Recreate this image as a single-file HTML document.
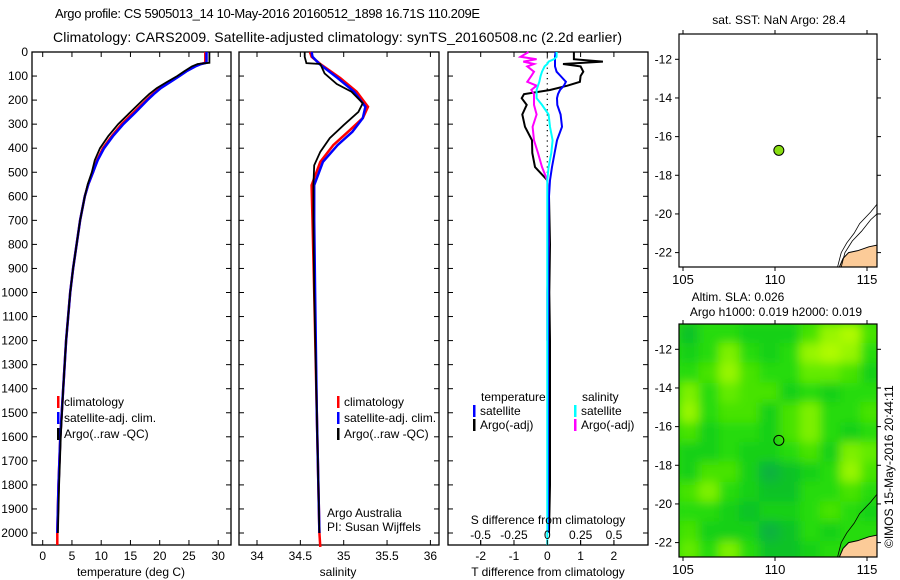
<!DOCTYPE html>
<html><head><meta charset="utf-8"><style>
html,body{margin:0;padding:0;background:#fff;}
svg{display:block;font-family:"Liberation Sans",sans-serif;}
text{font-size:12px;fill:#000;}
</style></head><body>
<svg id="fig" width="900" height="580" viewBox="0 0 900 580">
<text x="55" y="18" style="font-size:13px" textLength="425">Argo profile: CS 5905013_14 10-May-2016 20160512_1898 16.71S 110.209E</text>
<text x="53" y="42" style="font-size:14px" textLength="569">Climatology: CARS2009. Satellite-adjusted climatology: synTS_20160508.nc (2.2d earlier)</text>
<g id="p1"></g>
<g id="p2"></g>
<g id="p3"></g>
<g id="m1"></g>
<g id="m2"></g>
<text transform="translate(893,548) rotate(-90)">©IMOS 15-May-2016 20:44:11</text>
</svg>
<script>
// ---------- data ----------
const depthTicks=[0,100,200,300,400,500,600,700,800,900,1000,1100,1200,1300,1400,1500,1600,1700,1800,1900,2000];
const tempTicks=[0,5,10,15,20,25,30];
const salTicks=[34,34.5,35,35.5,36];
const salTickLabels=["34","34.5","35","35.5","36"];
const tdTicks=[-2,-1,0,1,2];
const sdTicks=[-0.5,-0.25,0,0.25,0.5];
const sdTickLabels=["-0.5","-0.25","0","0.25","0.5"];

const depthT=[0,10,30,45,50,60,80,100,125,150,175,200,250,300,350,400,450,500,550,600,700,800,900,1000,1200,1400,1600,1800,2000,2050];
const argoT=[28.5,28.5,28.5,28.5,26.5,25.5,24.2,23,21.2,19.5,18.2,17.1,15,12.9,11.2,9.8,8.9,8.4,7.7,7.2,6.4,5.8,5.2,4.7,4.0,3.5,3.1,2.8,2.6,null];
const climT=[27.8,27.8,27.8,27.8,27.0,26.0,24.5,23.3,21.6,20.0,18.8,17.7,15.6,13.5,11.8,10.3,9.3,8.6,7.8,7.2,6.4,5.8,5.2,4.7,4.0,3.5,3.0,2.7,2.5,2.5];
const satT=[28.0,28.0,28.0,28.0,27.1,26.1,24.6,23.4,21.8,20.2,19.0,17.9,15.9,13.8,12.0,10.5,9.4,8.6,7.8,7.2,6.4,5.8,5.2,4.7,4.0,3.5,3.0,2.7,2.5,null];

const depthS=[0,20,46,50,89,133,165,213,249,304,358,415,471,554,700,1000,1500,2000,2050];
const argoS=[34.55,34.55,34.57,34.73,34.78,34.92,35.09,35.22,35.17,35.0,34.84,34.73,34.66,34.65,34.65,34.66,34.69,34.72,null];
const depthC=[0,20,50,108,165,228,275,332,387,457,554,700,1000,1500,2000,2058];
const climS=[34.61,34.63,34.73,34.96,35.15,35.28,35.22,35.05,34.88,34.73,34.63,34.64,34.66,34.69,34.72,34.73];
const satS=[34.63,34.64,34.72,34.93,35.12,35.25,35.22,35.1,34.93,34.76,34.66,34.66,34.67,34.69,34.72,null];

const depthD=[0,20,30,40,50,60,82,100,124,140,158,175,192,220,260,311,367,420,478,533,600,800,1000,1200,1500,1800,2000,2050];
const argoTd=[0.8,0.8,0.8,1.67,0.47,1.0,1.08,1.0,0.98,0.6,0.08,-0.7,-0.77,-0.62,-0.75,-0.67,-0.46,-0.45,-0.37,0,0.05,0.08,0.06,0.08,0.08,0.08,0.05,null];
const satTd=[0.25,0.23,0.23,0.23,0.23,0.23,0.28,0.4,0.56,0.5,0.38,0.32,0.29,0.3,0.4,0.44,0.29,0.22,0.14,0.08,0.05,0.03,0.03,0.02,0.02,0.02,0.02,null];
const satSd=[0.07,0.07,0.05,0.01,0,-0.02,-0.04,-0.05,-0.06,-0.07,-0.08,-0.08,-0.08,-0.04,0.01,0.02,0.04,0.03,0.01,0,0,0,0,0,0,0,0,0];
const argoSd=[-0.14,-0.2,-0.08,-0.18,-0.1,-0.15,-0.1,-0.12,-0.15,-0.08,-0.12,-0.1,-0.1,-0.1,-0.08,-0.11,-0.1,-0.07,-0.04,0,0.01,0.01,0,0,null,null,null,null];

const lonTicks=[105,110,115];
const latTicks=[-12,-14,-16,-18,-20,-22];
const floatLon=110.209, floatLat=-16.71;
const slaGrid=[
[0.2,0.4,0.4,0.3,0.3,0.3,0.5,0.8,0.9,0.5],
[0.3,0.4,0.7,0.4,0.3,0.4,0.8,0.9,0.8,0.4],
[0.4,0.5,0.8,0.5,0.4,0.4,0.6,0.6,0.5,0.3],
[0.7,0.4,0.6,0.5,0.5,0.3,0.4,0.3,0.4,0.4],
[0.8,0.4,0.5,0.5,0.3,0.5,0.7,0.4,0.4,0.5],
[0.5,0.3,0.4,0.4,0.3,0.5,0.7,0.4,0.3,0.4],
[0.3,0.3,0.4,0.3,0.3,0.4,0.5,0.3,0.7,0.6],
[0.3,0.5,0.5,0.3,0.1,0.2,0.3,0.4,0.8,0.5],
[0.5,0.7,0.4,0.3,0.2,0.2,0.4,0.4,0.5,0.4],
[0.4,0.4,0.3,0.2,0.3,0.3,0.4,0.5,0.4,0.3],
[0.5,0.3,0.3,0.3,0.1,0.2,0.4,0.3,0.4,0.4],
[0.6,0.4,0.7,0.4,0.2,0.2,0.3,0.4,0.4,0.3]];

// ---------- helpers ----------
const NS="http://www.w3.org/2000/svg";
function mk(tag,attrs,parent){const e=document.createElementNS(NS,tag);for(const k in attrs)e.setAttribute(k,attrs[k]);parent.appendChild(e);return e;}
function txt(s,x,y,anchor,parent){const t=mk('text',{x:x,y:y,'text-anchor':anchor||'start'},parent);t.textContent=s;return t;}
const TOP=52,BOT=545;
const yD=d=>TOP+d*0.2405;
function linePath(xs,ys,xf){let d='',pen=false;for(let i=0;i<xs.length;i++){if(xs[i]==null){pen=false;continue;}const X=xf(xs[i]).toFixed(1),Y=yD(ys[i]).toFixed(1);d+=(pen?'L':'M')+X+' '+Y;pen=true;}return d;}
function frame(g,x0,x1,yLabels){
  const r=mk('rect',{x:x0,y:TOP,width:x1-x0,height:BOT-TOP,fill:'none',stroke:'#000','stroke-width':1.3},g);
  
  
  depthTicks.forEach(d=>{const y=yD(d);
    mk('line',{x1:x0,y1:y,x2:x0+5,y2:y,stroke:'#000'},g);
    mk('line',{x1:x1-5,y1:y,x2:x1,y2:y,stroke:'#000'},g);
    if(yLabels){const t=txt(String(d),x0-4,y+4,'end',g);
      
      }
  });
}
function xticks(g,vals,labels,xf,labelY,top){
  vals.forEach((v,i)=>{const x=xf(v);
    mk('line',{x1:x,y1:BOT,x2:x,y2:BOT-5,stroke:'#000'},g);
    if(top) mk('line',{x1:x,y1:TOP,x2:x,y2:TOP+5,stroke:'#000'},g);
    if(labelY){const t=txt(labels[i],x,labelY,'middle',g);
      
      }
  });
}
function series(g,xs,ds,xf,color,w,name){
  const p=mk('path',{d:linePath(xs,ds,xf),fill:'none',stroke:color,'stroke-width':w,'stroke-linejoin':'miter'},g);
  
  
}
function legend(g,x,y,color,label,name){
  mk('rect',{x:x,y:y-10,width:2.5,height:12,fill:color},g);
  const t=txt(label,x+7,y,'start',g);
  
  
}

// ---------- panel 1: temperature ----------
const g1=document.getElementById('p1');
const xT=v=>42.7+v*5.85;
frame(g1,32,231,true);
xticks(g1,tempTicks,tempTicks.map(String),xT,560,true);
series(g1,climT,depthT,xT,'#f00',2.5,'climatology-temperature-line');
series(g1,satT,depthT,xT,'#00f',2.5,'satellite-temperature-line');
series(g1,argoT,depthT,xT,'#000',1.8,'argo-temperature-line');
legend(g1,57,406,'#f00','climatology','legend-climatology');
legend(g1,57,422,'#00f','satellite-adj. clim.','legend-satellite');
legend(g1,57,438,'#000','Argo(..raw -QC)','legend-argo');
{const t=txt('temperature (deg C)',131,576,'middle',g1);}

// ---------- panel 2: salinity ----------
const g2=document.getElementById('p2');
const xS=v=>257+(v-34)*86.7;
frame(g2,239,439,false);
xticks(g2,salTicks,salTickLabels,xS,560,true);
series(g2,climS,depthC,xS,'#f00',2.5,'climatology-salinity-line');
series(g2,satS,depthC,xS,'#00f',2.5,'satellite-salinity-line');
series(g2,argoS,depthS,xS,'#000',1.8,'argo-salinity-line');
legend(g2,337,406,'#f00','climatology','legend-climatology');
legend(g2,337,422,'#00f','satellite-adj. clim.','legend-satellite');
legend(g2,337,438,'#000','Argo(..raw -QC)','legend-argo');
txt('Argo Australia',327,517,'start',g2);
txt('PI: Susan Wijffels',327,531,'start',g2);
{const t=txt('salinity',338,576,'middle',g2);}

// ---------- panel 3: differences ----------
const g3=document.getElementById('p3');
const xTd=v=>547.3+v*33.3;
const xSd=v=>547.3+v*133.3;
frame(g3,448,648,false);
xticks(g3,tdTicks,tdTicks.map(String),xTd,560,true);
mk('line',{x1:xTd(0),y1:TOP,x2:xTd(0),y2:BOT,stroke:'#000','stroke-dasharray':'1.2 4','stroke-width':1.2},g3);
series(g3,argoTd,depthD,xTd,'#000',2,'argo-temperature-difference-line');
series(g3,argoSd,depthD,xSd,'#f0f',2,'argo-salinity-difference-line');
series(g3,satTd,depthD,xTd,'#00f',2,'satellite-temperature-difference-line');
series(g3,satSd,depthD,xSd,'#0ff',2,'satellite-salinity-difference-line');
sdTicks.forEach((v,i)=>{const x=xSd(v);mk('line',{x1:x,y1:BOT,x2:x,y2:BOT-5,stroke:'#000'},g3);
  const t=txt(sdTickLabels[i],x,539,'middle',g3);});
txt('S difference from climatology',548,524,'middle',g3);
txt('temperature',481,401,'start',g3);
txt('salinity',582,401,'start',g3);
legend(g3,473,415,'#00f','satellite','legend-temp-satellite');
legend(g3,473,429,'#000','Argo(-adj)','legend-temp-argo');
legend(g3,574,415,'#0ff','satellite','legend-sal-satellite');
legend(g3,574,429,'#f0f','Argo(-adj)','legend-sal-argo');
{const t=txt('T difference from climatology',548,576,'middle',g3);}

// ---------- maps ----------
const mx=lon=>683+(lon-105)*18.4;
const MX0=679,MX1=877;
function cmap(v){
  const stops=[[0,[0,165,80]],[0.35,[25,215,10]],[0.6,[100,235,0]],[1,[200,255,0]]];
  for(let i=1;i<stops.length;i++){if(v<=stops[i][0]){const a=stops[i-1],b=stops[i],t=(v-a[0])/(b[0]-a[0]);
    return 'rgb('+a[1].map((c,k)=>Math.round(c+(b[1][k]-c)*t)).join(',')+')';}}
  return 'rgb(200,255,0)';
}
function map(g,top,bottom,lat12,withGrid,dotFill){
  const my=lat=>lat12+(-12-lat)*19.33;
  const cid='clip'+top;
  const cp=mk('clipPath',{id:cid},g);mk('rect',{x:MX0,y:top,width:MX1-MX0,height:bottom-top},cp);
  const inner=mk('g',{'clip-path':'url(#'+cid+')'},g);
  if(withGrid){
    const defs=mk('defs',{},g);const f=mk('filter',{id:'blur',x:'-10%',y:'-10%',width:'120%',height:'120%'},defs);
    mk('feGaussianBlur',{stdDeviation:5},f);
    mk('rect',{x:MX0,y:top,width:MX1-MX0,height:bottom-top,fill:cmap(0.4)},inner);
    const hg=mk('g',{filter:'url(#blur)'},inner);
    const rows=slaGrid.length,cols=slaGrid[0].length;
    const lonW=(115.8-104.8)/cols, latH=(23.0-10.7)/rows;
    slaGrid.forEach((row,r)=>row.forEach((v,c)=>{
      const x0=mx(104.8+c*lonW),x1=mx(104.8+(c+1)*lonW),y0=my(-10.7-r*latH),y1=my(-10.7-(r+1)*latH);
      const cell=mk('rect',{x:x0-1,y:y0-1,width:x1-x0+2,height:y1-y0+2,fill:cmap(v)},hg);
      
      
    }));
  }
  const land=mk('path',{d:`M${mx(113.5)} ${bottom} L${mx(113.7)} ${my(-22.3)} L${mx(114.0)} ${my(-22.0)} L${mx(114.5)} ${my(-21.9)} L${mx(115.1)} ${my(-21.7)} L${mx(115.6)} ${my(-21.6)} L${MX1} ${bottom} Z`,fill:'#fccb98',stroke:'#000','stroke-width':1},inner);
  
  
  mk('path',{d:`M${mx(113.4)} ${bottom} L${mx(113.6)} ${my(-22.0)} L${mx(113.9)} ${my(-21.5)} L${mx(114.3)} ${my(-21.0)} L${mx(114.6)} ${my(-20.5)} L${mx(115.2)} ${my(-19.9)} L${MX1} ${my(-19.5)}`,fill:'none',stroke:'#000','stroke-width':0.8},inner);
  if(!withGrid) mk('path',{d:`M${mx(113.6)} ${bottom} L${mx(113.8)} ${my(-22.0)} L${mx(114.2)} ${my(-21.4)} L${mx(114.7)} ${my(-20.9)} L${mx(115.2)} ${my(-20.3)} L${MX1} ${my(-20.0)}`,fill:'none',stroke:'#000','stroke-width':0.8},inner);
  mk('rect',{x:MX0,y:top,width:MX1-MX0,height:bottom-top,fill:'none',stroke:'#000','stroke-width':1.2},g);
  lonTicks.forEach(l=>{const x=mx(l);mk('line',{x1:x,y1:bottom,x2:x,y2:bottom+4,stroke:'#000'},g);mk('line',{x1:x,y1:top,x2:x,y2:top-4,stroke:'#000'},g);
    const t=txt(String(l),x,bottom+17,'middle',g);t.style.fontSize='13px';});
  latTicks.forEach(l=>{const y=my(l);mk('line',{x1:MX0,y1:y,x2:MX0-4,y2:y,stroke:'#000'},g);mk('line',{x1:MX1,y1:y,x2:MX1+4,y2:y,stroke:'#000'},g);
    const t=txt(String(l),MX0-7,y+4,'end',g);});
  const dot=mk('circle',{cx:mx(floatLon),cy:my(floatLat),r:5,fill:dotFill,stroke:'#000','stroke-width':1},g);
  
  
}
const gm1=document.getElementById('m1');
map(gm1,34,267,59.3,false,'#88dd11');
txt('sat. SST: NaN Argo: 28.4',779,24,'middle',gm1);
const gm2=document.getElementById('m2');
map(gm2,324,557,349.3,true,'none');
txt('Altim. SLA: 0.026',738,301,'middle',gm2);
txt('Argo h1000: 0.019 h2000: 0.019',776,316,'middle',gm2);
</script>
</body></html>
